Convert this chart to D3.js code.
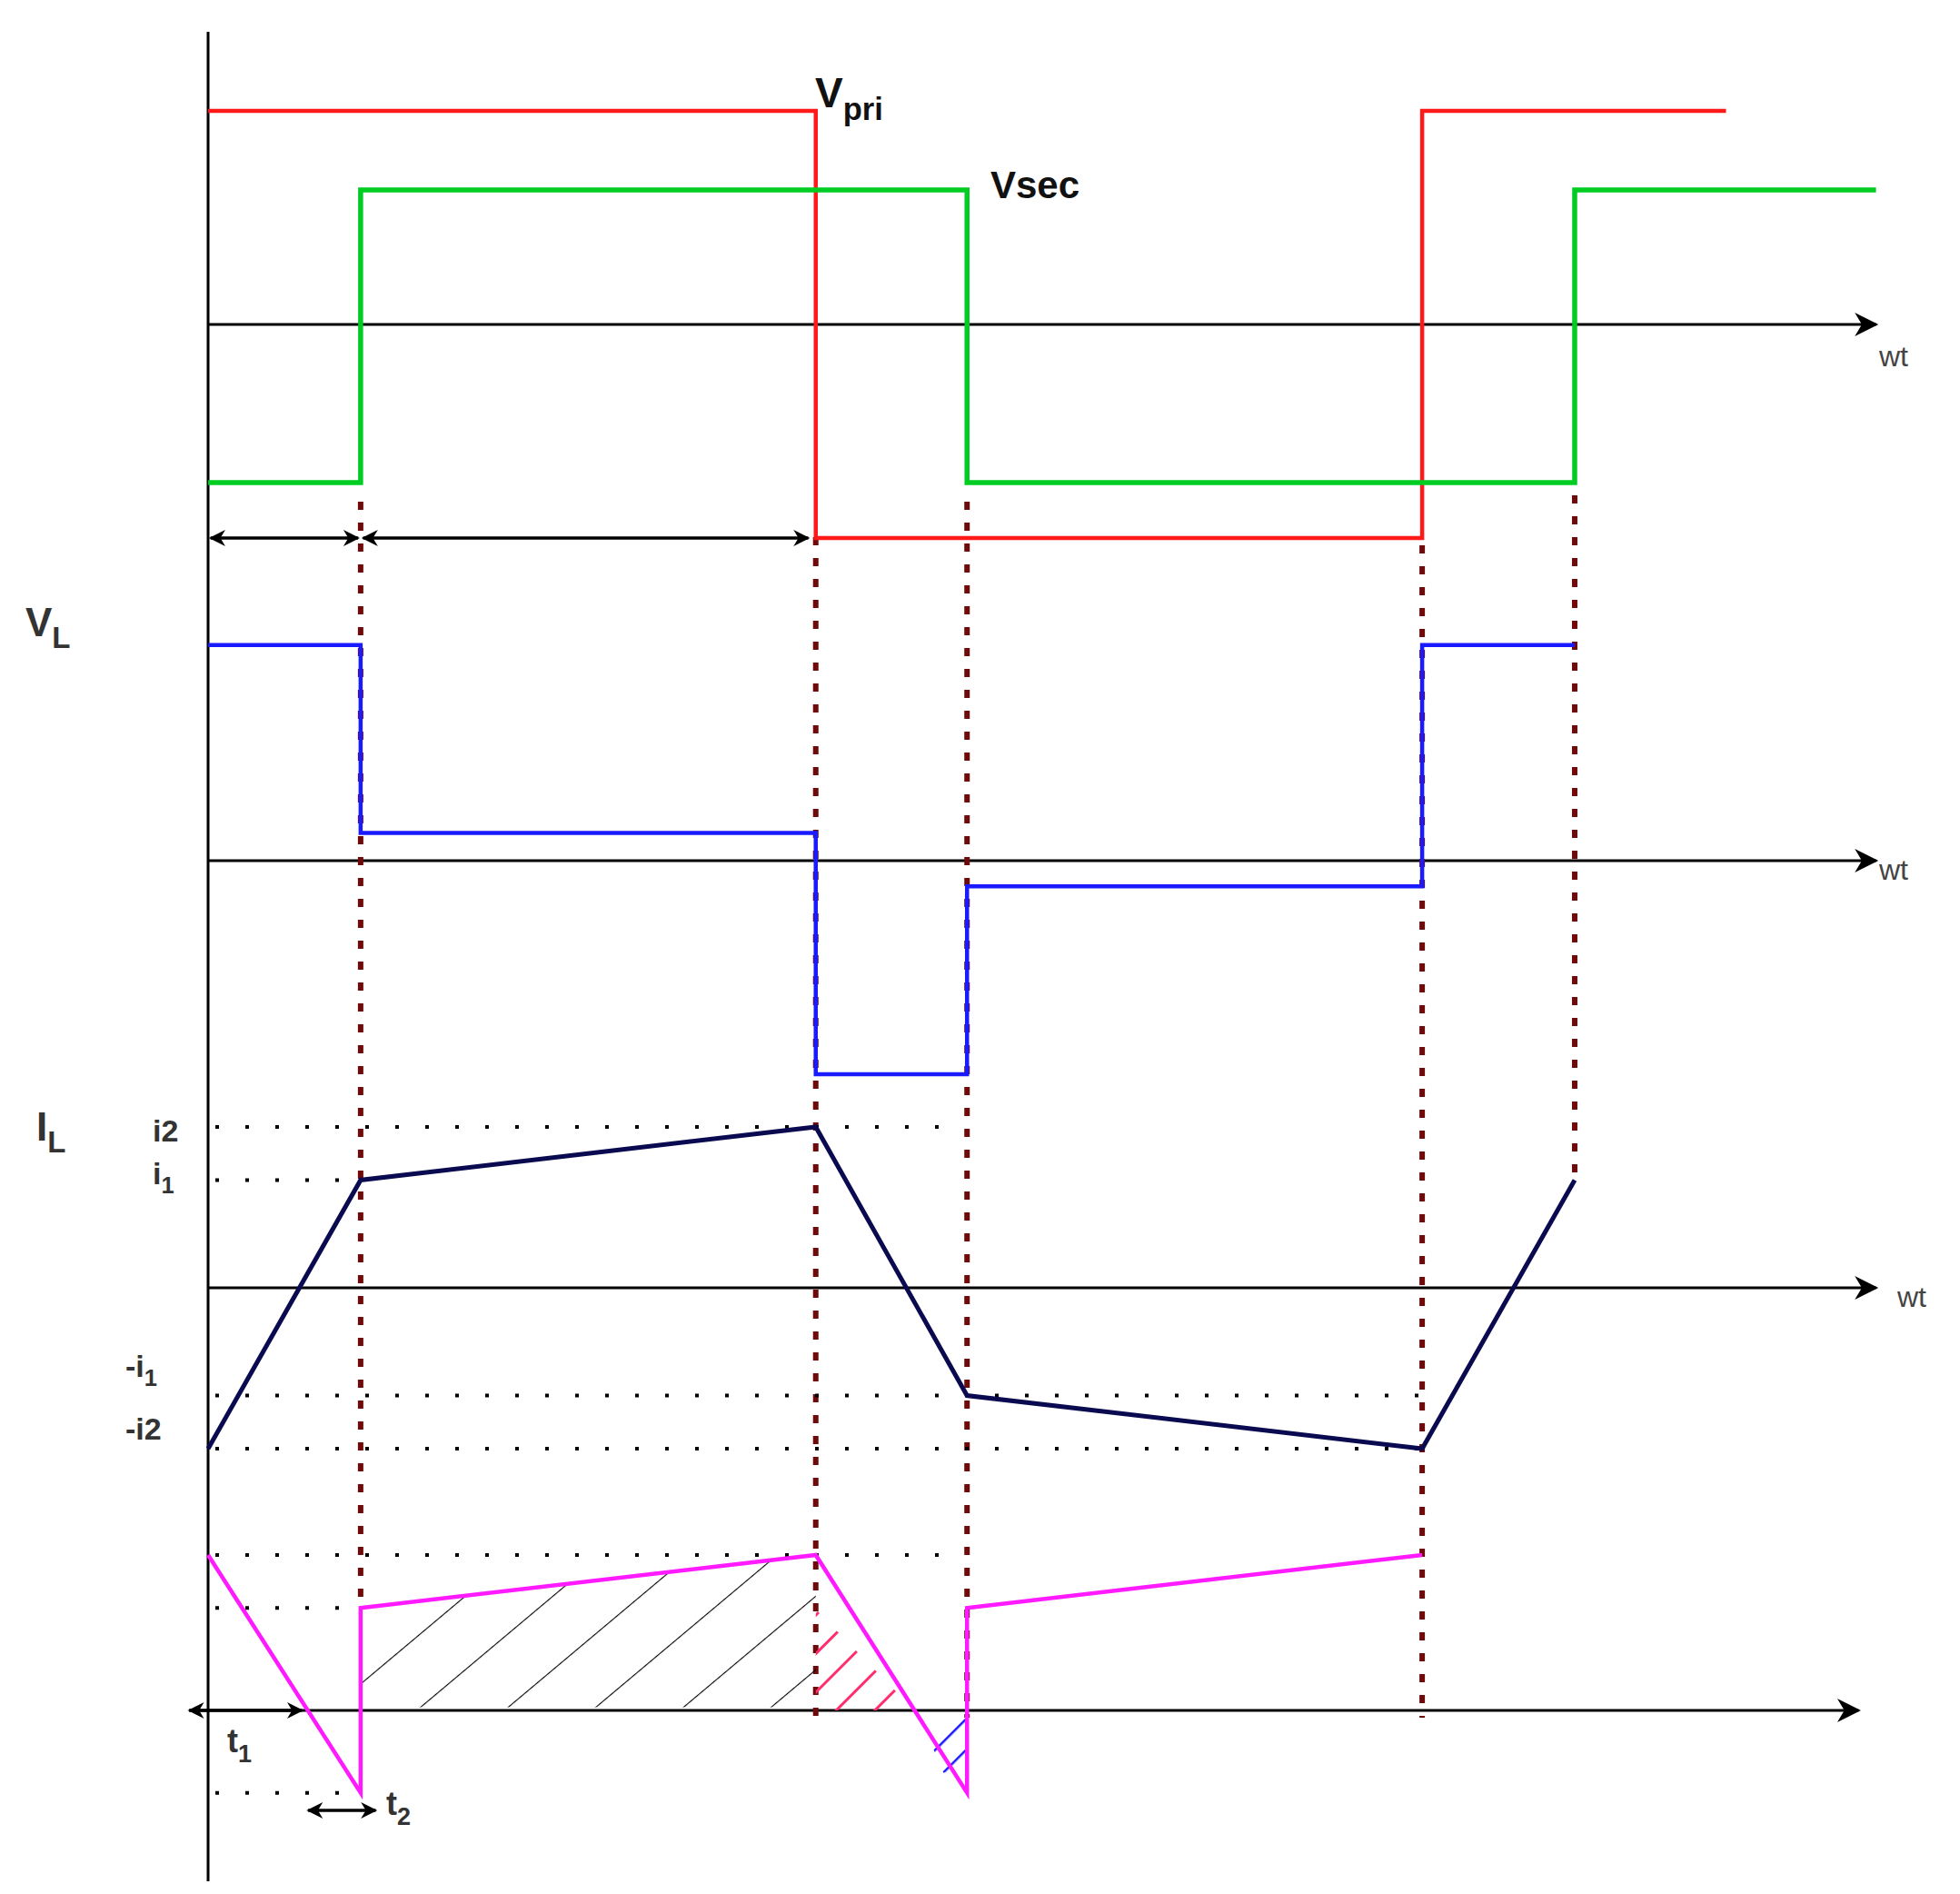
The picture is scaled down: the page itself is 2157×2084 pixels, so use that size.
<!DOCTYPE html>
<html><head><meta charset="utf-8">
<script src="https://cdn.jsdelivr.net/npm/d3@7"></script>
<style>body{margin:0;background:#fff}svg{display:block}text{font-family:"Liberation Sans",Arial,sans-serif}</style>
</head><body>
<script>
// event times (arbitrary units along wt)
const tEvents = [0, 12.2, 48.6, 60.7, 97.1, 109.3];
const vpriT = [0, 48.6, 97.1, 121.4], vpriV = [1, -1, 1, 1];
const vsecT = [0, 12.2, 60.7, 109.3, 133.4], vsecV = [-0.74, 0.63, -0.74, 0.63, 0.63];
const vlT = [0, 12.2, 48.6, 60.7, 97.1, 109.3], vlV = [1.01, 0.13, -1.0, -0.12, 1.01, 1.01];
const ilT = [0, 12.2, 48.6, 60.7, 97.1, 109.3], ilV = [-1, 0.67, 1, -0.67, -1, 0.67];
const pT = [0, 12.2, 12.2, 48.6, 60.7, 60.7, 97.1], pV = [1, -0.53, 0.66, 1, -0.53, 0.66, 1];
const ilLevels = ["i2", "i1", "-i1", "-i2"], ilLevelV = [1, 0.67, -0.67, -1];

const W = 2157, H = 2084;
const svg = d3.select("body").append("svg").attr("width", W).attr("height", H);
const x = d3.scaleLinear().domain([0, 100]).range([229, 1605]);
const yA = d3.scaleLinear().domain([-1, 1]).range([592, 122]);
const yB = d3.scaleLinear().domain([-1, 1]).range([1182, 712]);
const yC = d3.scaleLinear().domain([-1, 1]).range([1594, 1240]);
const yD = d3.scaleLinear().domain([-1, 1]).range([2053, 1711]);

const defs = svg.append("defs");
defs.append("marker").attr("id", "arr").attr("viewBox", "0 0 10 10").attr("refX", 9).attr("refY", 5)
  .attr("markerWidth", 20).attr("markerHeight", 18).attr("markerUnits", "userSpaceOnUse").attr("orient", "auto-start-reverse")
  .append("path").attr("d", "M0,0 L10,5 L0,10 L3,5 Z").attr("fill", "#000");
defs.append("marker").attr("id", "arrBig").attr("viewBox", "0 0 10 10").attr("refX", 9).attr("refY", 5)
  .attr("markerWidth", 30).attr("markerHeight", 26).attr("markerUnits", "userSpaceOnUse").attr("orient", "auto")
  .append("path").attr("d", "M0,0 L10,5 L0,10 L3,5 Z").attr("fill", "#000");

const zip = (T, V) => T.map((t, i) => [t, V[i]]);
const stepLine = (ys) => d3.line().x(d => x(d[0])).y(d => ys(d[1])).curve(d3.curveStepAfter);
const lin = (ys) => d3.line().x(d => x(d[0])).y(d => ys(d[1]));

svg.append("line").attr("x1", x(0)).attr("x2", x(0)).attr("y1", 35).attr("y2", 2070).attr("stroke", "#000").attr("stroke-width", 3);

[[yA, 133.4], [yB, 133.4], [yC, 133.4], [yD, 132]].forEach(([ys, e], i) => {
  svg.append("line").attr("x1", i === 3 ? x(-1.5) : x(0)).attr("x2", x(e)).attr("y1", ys(0)).attr("y2", ys(0))
    .attr("stroke", "#000").attr("stroke-width", 3).attr("marker-end", "url(#arrBig)");
});

const brown = "#6e0a0a";
const vdots = [[12.2, 552, 1769], [48.6, 591, 1890], [60.7, 552, 1890], [97.1, 600, 1890], [109.3, 545, 1299]];
vdots.forEach(([t, a, b]) => svg.append("line").attr("x1", x(t)).attr("x2", x(t)).attr("y1", a).attr("y2", b)
  .attr("stroke", brown).attr("stroke-width", 6).attr("stroke-dasharray", "9,14"));

function hdots(ys, v, t1) {
  svg.append("line").attr("x1", x(0) + 8).attr("x2", x(t1)).attr("y1", ys(v)).attr("y2", ys(v))
    .attr("stroke", "#000").attr("stroke-width", 4).attr("stroke-dasharray", "4,29");
}
hdots(yC, 1, 60); hdots(yC, 0.67, 12.2); hdots(yC, -0.67, 97); hdots(yC, -1, 97);
hdots(yD, 1, 60); hdots(yD, 0.66, 12.2); hdots(yD, -0.53, 12.2);

function pattern(id, color, sp, ang, w) {
  const p = defs.append("pattern").attr("id", id).attr("patternUnits", "userSpaceOnUse")
    .attr("width", sp).attr("height", sp).attr("patternTransform", `rotate(${ang})`);
  p.append("line").attr("x1", 0).attr("y1", 0).attr("x2", 0).attr("y2", sp).attr("stroke", color).attr("stroke-width", w);
}
pattern("hb", "#000", 62, 50, 2.2);
pattern("hr", "#ff2e6e", 30, 45, 6);
pattern("hbl", "#1a1aff", 24, 45, 5);
const zc = 48.6 + 12.1 * (1 / 1.53);
const poly = d3.line().x(d => x(d[0])).y(d => yD(d[1]));
svg.append("path").attr("d", poly([[12.2, 0.02], [12.2, 0.66], [48.6, 1], [48.6, 0.02]]) + "Z").attr("fill", "url(#hb)");
svg.append("path").attr("d", poly([[48.6, 0], [48.6, 0.65], [zc, 0]]) + "Z").attr("fill", "url(#hr)");
svg.append("path").attr("d", poly([[57.5, -0.15], [60.7, 0], [60.7, -0.4], [58.8, -0.4]]) + "Z").attr("fill", "url(#hbl)");

svg.append("path").attr("d", stepLine(yA)(zip(vpriT, vpriV))).attr("fill", "none").attr("stroke", "#ff1a1a").attr("stroke-width", 4.5);
svg.append("path").attr("d", stepLine(yA)(zip(vsecT, vsecV))).attr("fill", "none").attr("stroke", "#00cc22").attr("stroke-width", 5.5);
svg.append("path").attr("d", stepLine(yB)(zip(vlT, vlV))).attr("fill", "none").attr("stroke", "#1a1aff").attr("stroke-width", 4.5);
svg.append("path").attr("d", lin(yC)(zip(ilT, ilV))).attr("fill", "none").attr("stroke", "#0a0a50").attr("stroke-width", 5);
svg.append("path").attr("d", lin(yD)(zip(pT, pV))).attr("fill", "none").attr("stroke", "#ff1aff").attr("stroke-width", 4.5);

function dbl(t1, t2, y) {
  svg.append("line").attr("x1", x(t1)).attr("x2", x(t2)).attr("y1", y).attr("y2", y).attr("stroke", "#000").attr("stroke-width", 3.5)
    .attr("marker-start", "url(#arr)").attr("marker-end", "url(#arr)");
}
dbl(0.2, 12.0, 592); dbl(12.4, 48.0, 592);
dbl(-1.5, 7.5, yD(0)); dbl(8, 13.4, 1992);

function txt(s, xx, yy, size, opts = {}) {
  const t = svg.append("text").attr("x", xx).attr("y", yy).attr("font-size", size).attr("fill", opts.fill || "#111")
    .attr("font-weight", opts.bold ? "bold" : "normal");
  if (Array.isArray(s)) {
    t.append("tspan").text(s[0]);
    t.append("tspan").attr("dy", size * 0.3).attr("font-size", size * 0.75).text(s[1]);
  } else t.text(s);
  return t;
}
txt(["V", "pri"], 897, 118, 46, { bold: true });
txt("Vsec", 1090, 218, 42, { bold: true });
txt("wt", 2068, 403, 32, { fill: "#444" });
txt("wt", 2068, 968, 32, { fill: "#444" });
txt("wt", 2088, 1438, 32, { fill: "#444" });
txt(["V", "L"], 28, 700, 44, { bold: true, fill: "#333" });
txt(["I", "L"], 40, 1255, 44, { bold: true, fill: "#333" });
const lblY = [1256, 1313, 1525, 1584], lblX = [168, 168, 138, 138];
ilLevels.forEach((s, i) => {
  if (s.endsWith("1")) txt([s.slice(0, -1), "1"], lblX[i], lblY[i] - 10, 34, { fill: "#333", bold: true });
  else txt(s, lblX[i], lblY[i], 34, { fill: "#333", bold: true });
});
txt(["t", "1"], 250, 1928, 36, { fill: "#333", bold: true });
txt(["t", "2"], 425, 1997, 36, { fill: "#333", bold: true });
</script>
</body></html>
